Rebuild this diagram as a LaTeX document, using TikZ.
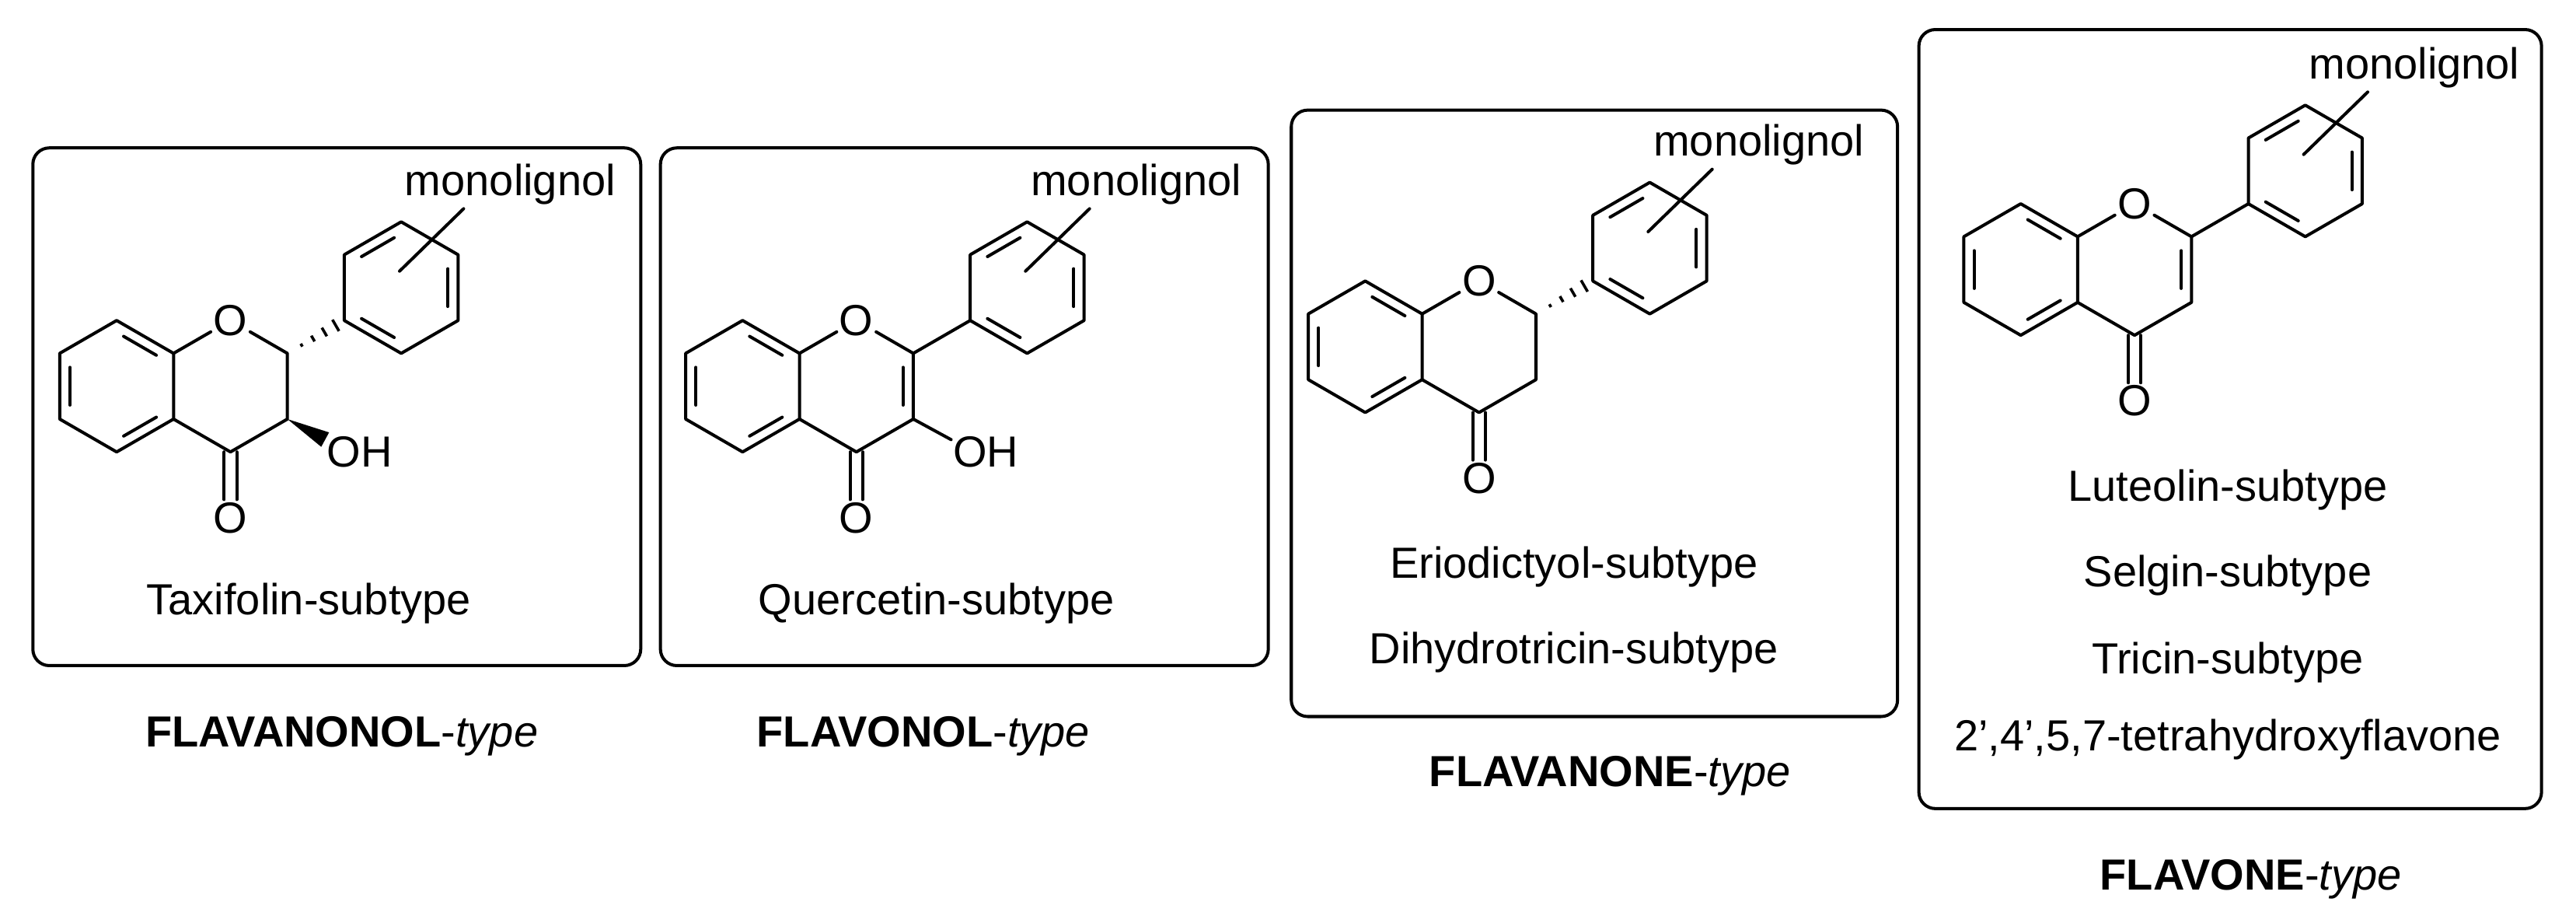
\documentclass[tikz,border=0pt]{standalone}
\usepackage{fontspec}
\setmainfont{Liberation Sans}
\usetikzlibrary{calc}
\newcommand\fsz{\fontsize{26.5}{30}\selectfont}
\tikzset{
 bond/.style={line width=1.9pt, line cap=round, line join=round},
 atom/.style={inner sep=1.5pt, font=\fsz},
 lbl/.style={font=\fsz},
 box/.style={draw, line width=1.9pt, rounded corners=10pt}
}
\newcommand\dbl[3]{\draw[bond] ($($(#1)!.15!(#2)$)!.18!(#3)$) -- ($($(#2)!.15!(#1)$)!.18!(#3)$);}
\newcommand\hashb[2]{\foreach \t/\w in {.25/1,.45/2,.65/3,.85/4}{\draw[line width=1.7pt] ($($(#1)!\t!(#2)$)!\w pt!90:(#2)$) -- ($($(#1)!\t!(#2)$)!\w pt!-90:(#2)$);}}
\newcommand\flavcore[2]{%
 \begin{scope}[shift={(#1,#2)}]
  \coordinate (cA) at (0,0);
  \coordinate (a1) at (0,-40); \coordinate (a2) at (34.64,-20); \coordinate (a3) at (34.64,20);
  \coordinate (a4) at (0,40); \coordinate (a5) at (-34.64,20); \coordinate (a6) at (-34.64,-20);
  \coordinate (cC) at (69.28,0);
  \node[atom] (O1) at (69.28,-40) {O};
  \coordinate (c2) at (103.92,-20); \coordinate (c3) at (103.92,20); \coordinate (c4) at (69.28,40);
  \node[atom] (O4) at (69.28,80) {O};
  \coordinate (p1) at (138.56,-40); \coordinate (cP) at (173.2,-60); \coordinate (p2) at (173.2,-20);
  \coordinate (p3) at (207.84,-40); \coordinate (p4) at (207.84,-80); \coordinate (p5) at (173.2,-100);
  \coordinate (p6) at (138.56,-80);
  \coordinate (m1) at (172.2,-70); \coordinate (m2) at (211.2,-108);
 \end{scope}
 \draw[bond] (a1)--(a2)--(a3)--(a4)--(a5)--(a6)--cycle;
 \dbl{a1}{a2}{cA}\dbl{a6}{a5}{cA}\dbl{a3}{a4}{cA}
 \draw[bond] (a2)--(O1)--(c2)--(c3)--(c4)--(a3);
 \draw[bond] ($(c4)+(-3.8,0)$) -- ($(O4.north)+(-3.8,0)$);
 \draw[bond] ($(c4)+(3.8,0)$) -- ($(O4.north)+(3.8,0)$);
 \draw[bond] (p1)--(p2)--(p3)--(p4)--(p5)--(p6)--cycle;
 \dbl{p6}{p5}{cP}\dbl{p3}{p4}{cP}\dbl{p1}{p2}{cP}
 \draw[bond] (m1) -- (m2);
 \node[lbl, anchor=base east] (ml) at ($(cP)+(134,-56)$) {monolignol};
}
\begin{document}
\begin{tikzpicture}[x=1pt,y=-1pt]
\useasboundingbox (0,0) rectangle (1568,561.6);
% boxes
\draw[box] (20,90) rectangle (390,405);
\draw[box] (402,90) rectangle (772,405);
\draw[box] (786,67) rectangle (1155,436);
\draw[box] (1168,18) rectangle (1547,492);
% molecule 1: flavanonol
\flavcore{71}{235}
\hashb{c2}{p1}
\coordinate (we) at ($(c3)+(23,12.5)$);
\fill (c3) -- ($(we)!5pt!90:(c3)$) -- ($(we)!5pt!-90:(c3)$) -- cycle;
\node[lbl, anchor=west, inner sep=0] (oh1) at ($(c3)+(24,20)$) {OH};
\node[lbl] (t1) at (188,367) {Taxifolin-subtype};
% molecule 2: flavonol
\flavcore{452}{235}
\draw[bond] (c2) -- (p1);
\dbl{c2}{c3}{cC}
\draw[bond] (c3) -- ($(c3)+(23,12.5)$);
\node[lbl, anchor=west, inner sep=0] (oh2) at ($(c3)+(24,20)$) {OH};
\node[lbl] (t2) at (570,367) {Quercetin-subtype};
% molecule 3: flavanone
\flavcore{831}{211}
\hashb{c2}{p1}
\node[lbl] (t3a) at (958,345) {Eriodictyol-subtype};
\node[lbl] (t3b) at (958,397) {Dihydrotricin-subtype};
% molecule 4: flavone
\flavcore{1230}{164}
\draw[bond] (c2) -- (p1);
\dbl{c2}{c3}{cC}
\node[lbl] (t4a) at (1356,298) {Luteolin-subtype};
\node[lbl] (t4b) at (1356,350) {Selgin-subtype};
\node[lbl] (t4c) at (1356,403) {Tricin-subtype};
\node[lbl] (t4d) at (1356,450) {2',4',5,7-tetrahydroxyflavone};
% type labels
\node[lbl] (L1) at (208,448) {\textbf{FLAVANONOL}-\textit{type}};
\node[lbl] (L2) at (562,448) {\textbf{FLAVONOL}-\textit{type}};
\node[lbl] (L3) at (980,472) {\textbf{FLAVANONE}-\textit{type}};
\node[lbl] (L4) at (1370,535) {\textbf{FLAVONE}-\textit{type}};
\end{tikzpicture}
\end{document}
